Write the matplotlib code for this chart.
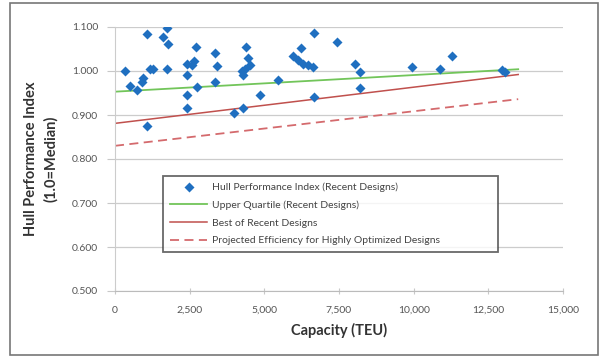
import matplotlib
matplotlib.use("Agg")
import matplotlib.pyplot as plt
from matplotlib.patches import Rectangle

plt.rcParams['font.family'] = ['Lato', 'DejaVu Sans']

# Scatter data: Hull Performance Index (Recent Designs)
capacity_teu = [335, 1082, 502, 726, 893, 949, 1082, 1172, 1261, 1730, 1618, 1786, 1751,
                2400, 2400, 2400, 2400, 2567, 2645, 2700, 2757, 3348, 3404, 3348,
                3984, 4296, 4386, 4464, 4520, 4241, 4296, 4350, 4855, 5468,
                6674, 6228, 5970, 6138, 6306, 6474, 6618, 6674, 7443, 8035, 8203, 8203,
                9955, 10881, 11272, 12946, 13057]
hull_index = [1.000, 1.084, 0.966, 0.957, 0.976, 0.983, 0.875, 1.004, 1.004, 1.097, 1.078, 1.061, 1.004,
              1.017, 0.991, 0.945, 0.915, 1.014, 1.023, 1.055, 0.964, 1.040, 1.011, 0.976,
              0.904, 0.915, 1.055, 1.029, 1.014, 1.000, 0.991, 1.005, 0.945, 0.980,
              1.086, 1.052, 1.033, 1.025, 1.017, 1.014, 1.008, 0.942, 1.067, 1.017, 0.998, 0.961,
              1.010, 1.004, 1.034, 1.002, 0.998]

# Trend lines (start / end)
line_x = [0, 13500]
upper_quartile = [0.953, 1.004]
best_recent = [0.881, 0.992]
projected = [0.830, 0.936]

x_ticks = [0, 2500, 5000, 7500, 10000, 12500, 15000]
x_ticklabels = ['0', '2,500', '5,000', '7,500', '10,000', '12,500', '15,000']
y_ticks = [0.5, 0.6, 0.7, 0.8, 0.9, 1.0, 1.1]
y_ticklabels = ['0.500', '0.600', '0.700', '0.800', '0.900', '1.000', '1.100']

fig = plt.figure(figsize=(6.0, 3.58), dpi=100)
ax = fig.add_axes([115/600, 1-291/358, 448/600, 264/358])

ax.scatter(capacity_teu, hull_index, marker='D', s=26, color='#1f6fc0', zorder=3,
           label='Hull Performance Index (Recent Designs)', linewidths=0)
ax.plot(line_x, upper_quartile, color='#72c55a', lw=1.3, label='Upper Quartile (Recent Designs)', zorder=2)
ax.plot(line_x, best_recent, color='#c0504d', lw=1.1, label='Best of Recent Designs', zorder=2)
ax.plot(line_x, projected, color='#d46a6d', lw=1.3, ls=(0, (5, 3)),
        label='Projected Efficiency for Highly Optimized Designs', zorder=2)

ax.set_xlim(0, 15000)
ax.set_ylim(0.5, 1.1)
ax.set_xticks(x_ticks)
ax.set_xticklabels(x_ticklabels)
ax.set_yticks(y_ticks)
ax.set_yticklabels(y_ticklabels)
ax.tick_params(axis='both', labelsize=7.5, labelcolor='#555555', colors='#c8c8c8')
ax.tick_params(axis='x', direction='inout', length=5, pad=8)
ax.tick_params(axis='y', direction='out', length=6, pad=6)
for lab in ax.get_xticklabels() + ax.get_yticklabels():
    lab.set_color('#555555')

ax.grid(axis='y', color='#cccccc', lw=0.9)
ax.set_axisbelow(True)
for s in ['top', 'right']:
    ax.spines[s].set_visible(False)
ax.spines['left'].set_color('#cccccc')
ax.spines['bottom'].set_color('#bbbbbb')

ax.set_xlabel('Capacity (TEU)', fontsize=10.5, fontweight='bold', color='#333333', labelpad=6)
ax.set_ylabel('Hull Performance Index\n(1.0=Median)', fontsize=10.5, fontweight='bold',
              color='#333333', labelpad=10, linespacing=1.5)

leg = ax.legend(loc='lower left', bbox_to_anchor=((163-115)/448, (291-252)/264,
                (498-163)/448, (252-172)/264), mode='expand',
                fontsize=7.5, frameon=True, fancybox=False, borderpad=0.65,
                labelspacing=0.8, handlelength=3.6, handletextpad=0.5, borderaxespad=0)
leg.get_frame().set_edgecolor('#444444')
leg.get_frame().set_linewidth(1.3)
for t in leg.get_texts():
    t.set_color('#444444')

fig.patches.append(Rectangle((10/600, 3/358), 588/600, 352/358, transform=fig.transFigure,
                             fill=False, edgecolor='#777777', lw=1.2))

fig.savefig('out.png', dpi=100)
